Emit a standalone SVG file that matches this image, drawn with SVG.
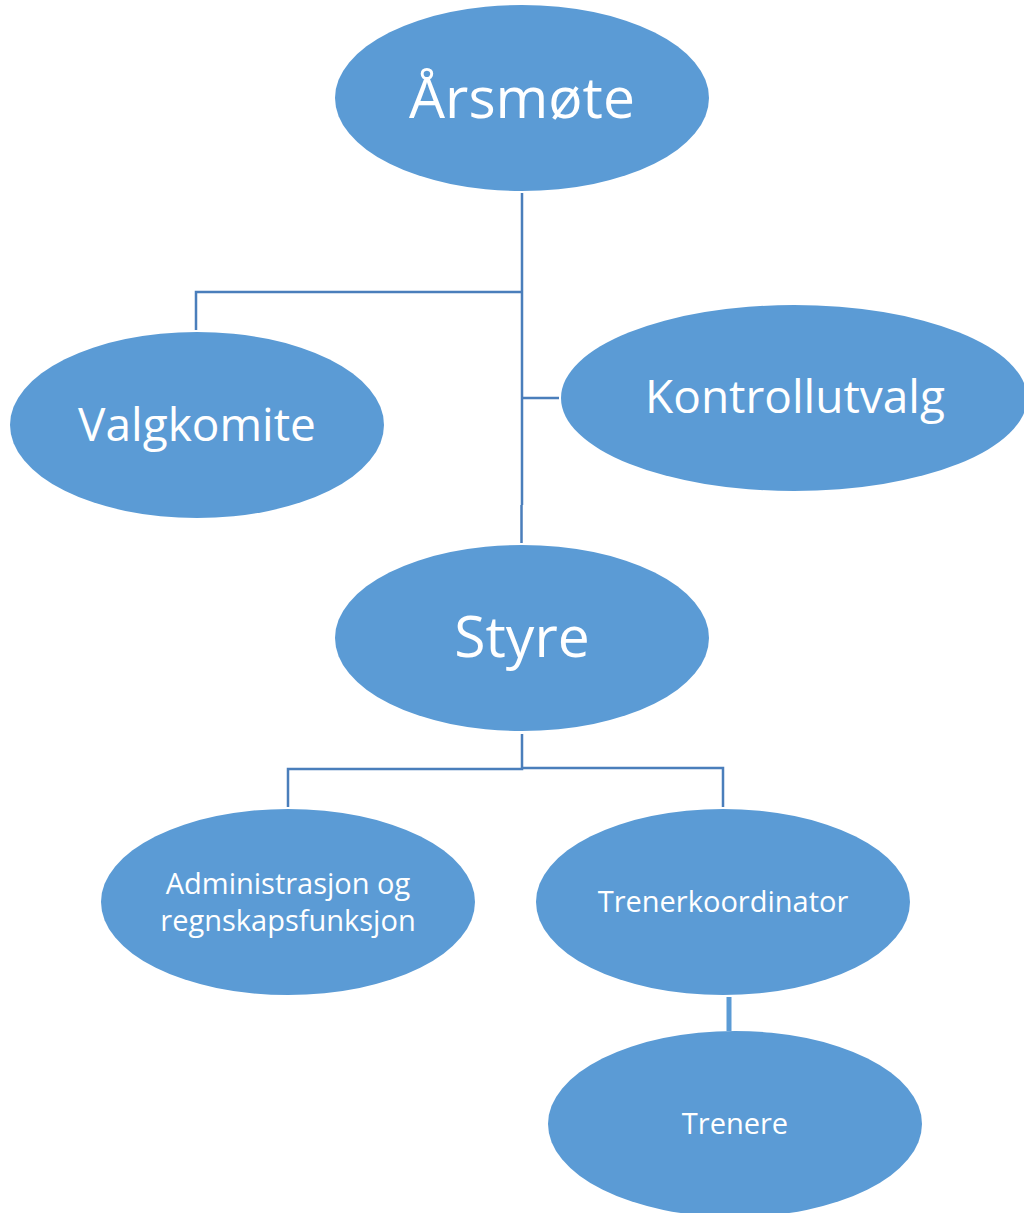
<svg xmlns="http://www.w3.org/2000/svg" width="1024" height="1213" viewBox="0 0 1024 1213">
<style>
.node{fill:#5b9bd5;}
.t{fill:#ffffff;font-family:"Open Sans","Noto Sans",sans-serif;text-anchor:middle;}
.big{font-size:57px;}
.mid{font-size:46px;}
.sm{font-size:29px;}
.c{fill:none;stroke:#4a7ebb;stroke-width:2.5;}
</style>
<rect width="1024" height="1213" fill="#ffffff"/>
<g id="connectors">
<path class="c" d="M522,193 V505 M521.5,505 V543"/>
<path class="c" d="M522,292 H196 V330"/>
<path class="c" d="M522,398 H559"/>
<path class="c" d="M522,734 V769 H288 V807"/>
<path class="c" d="M522,768 H723 V807"/>
<path d="M729,997 V1031" fill="none" stroke="#5b9bd5" stroke-width="5"/>
</g>
<g id="arsmote">
<ellipse class="node" cx="522" cy="98" rx="187" ry="93"/>
<text class="t big" x="522" y="118">Årsmøte</text>
</g>
<g id="valgkomite">
<ellipse class="node" cx="197" cy="425" rx="187" ry="93"/>
<text class="t mid" x="197" y="441">Valgkomite</text>
</g>
<g id="kontrollutvalg">
<ellipse class="node" cx="794" cy="398" rx="233" ry="93"/>
<text class="t mid" x="795" y="413">Kontrollutvalg</text>
</g>
<g id="styre">
<ellipse class="node" cx="522" cy="638" rx="187" ry="93"/>
<text class="t big" x="522" y="657">Styre</text>
</g>
<g id="administrasjon">
<ellipse class="node" cx="288" cy="902" rx="187" ry="93"/>
<text class="t sm" x="288" y="894">Administrasjon og</text>
<text class="t sm" x="288" y="931">regnskapsfunksjon</text>
</g>
<g id="trenerkoordinator">
<ellipse class="node" cx="723" cy="902" rx="187" ry="93"/>
<text class="t sm" x="723" y="912">Trenerkoordinator</text>
</g>
<g id="trenere">
<ellipse class="node" cx="735" cy="1124" rx="187" ry="93"/>
<text class="t sm" x="735" y="1134">Trenere</text>
</g>
</svg>
